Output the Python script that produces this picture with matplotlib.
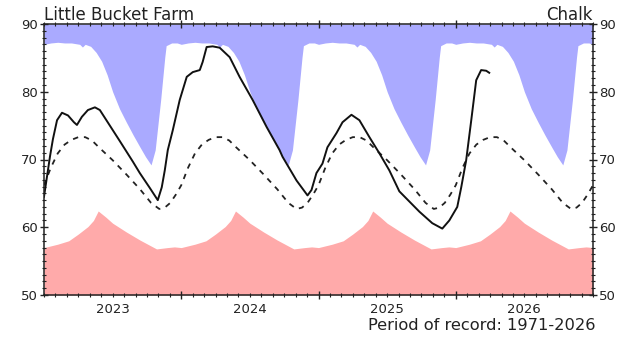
import matplotlib
matplotlib.use("Agg")
import matplotlib.pyplot as plt
from matplotlib.ticker import MultipleLocator, FixedLocator
import numpy as np

# climatology envelopes, by fraction of year
max_frac = [0.00, 0.05, 0.10, 0.15, 0.20, 0.26, 0.28, 0.30, 0.34, 0.38, 0.42, 0.46, 0.50,
            0.55, 0.60, 0.65, 0.70, 0.74, 0.78, 0.81, 0.85, 0.88, 0.89, 0.93, 0.97]
max_level = [87.0, 87.2, 87.3, 87.2, 87.2, 87.0, 86.6, 87.0, 86.7, 85.8, 84.5, 82.5, 80.0,
             77.5, 75.5, 73.6, 71.8, 70.4, 69.2, 71.4, 78.8, 85.1, 86.8, 87.2, 87.2]

min_frac = [0.00, 0.10, 0.18, 0.25, 0.32, 0.36, 0.395, 0.45, 0.50, 0.60, 0.70, 0.82, 0.90, 0.95]
min_level = [57.0, 57.5, 58.0, 59.0, 60.1, 61.0, 62.4, 61.5, 60.6, 59.3, 58.1, 56.8, 57.0, 57.1]

avg_frac = [0.00, 0.05, 0.10, 0.15, 0.20, 0.25, 0.30, 0.35, 0.40, 0.50, 0.60, 0.70, 0.78,
            0.84, 0.88, 0.92, 0.96]
avg_level = [66.2, 68.8, 70.9, 72.2, 72.9, 73.3, 73.3, 72.8, 71.8, 69.9, 67.8, 65.6, 63.6,
             62.7, 62.9, 63.6, 64.8]

years = [2023, 2024, 2025, 2026]

# observed groundwater level (decimal year, m AOD)
obs_date = [2023.000, 2023.022, 2023.044, 2023.065, 2023.095, 2023.131, 2023.175, 2023.218,
            2023.240, 2023.276, 2023.320, 2023.371, 2023.407, 2023.480, 2023.553, 2023.647,
            2023.698, 2023.771, 2023.829, 2023.858, 2023.880, 2023.902, 2023.938, 2023.989,
            2024.040, 2024.084, 2024.135, 2024.156, 2024.185, 2024.229, 2024.280, 2024.353,
            2024.425, 2024.520, 2024.622, 2024.716, 2024.738, 2024.840, 2024.920, 2024.949,
            2024.985, 2025.029, 2025.065, 2025.131, 2025.175, 2025.240, 2025.298, 2025.371,
            2025.444, 2025.516, 2025.589, 2025.735, 2025.829, 2025.902, 2025.953, 2026.011,
            2026.040, 2026.076, 2026.113, 2026.149, 2026.185, 2026.222, 2026.244]
obs_level = [64.5, 67.5, 70.5, 73.0, 75.8, 76.9, 76.5, 75.5,
             75.1, 76.3, 77.3, 77.7, 77.3, 75.0, 72.7, 69.7,
             68.0, 65.8, 64.0, 65.9, 68.4, 71.4, 74.3, 78.8,
             82.2, 82.9, 83.2, 84.4, 86.6, 86.7, 86.5, 85.1,
             82.2, 78.8, 74.8, 71.4, 70.4, 66.9, 64.7, 65.5,
             68.0, 69.4, 71.8, 73.9, 75.5, 76.6, 75.8, 73.3,
             70.9, 68.4, 65.3, 62.3, 60.6, 59.8, 61.0, 63.0,
             65.9, 69.9, 75.8, 81.7, 83.2, 83.1, 82.8]


def tile(frac, level):
    xs, ys = [], []
    for yr in years:
        xs += [yr + f for f in frac]
        ys += level
    xs.append(years[-1] + 1)
    ys.append(level[0])
    return np.array(xs), np.array(ys)


mx_x, mx_y = tile(max_frac, max_level)
mn_x, mn_y = tile(min_frac, min_level)
av_x, av_y = tile(avg_frac, avg_level)

fig = plt.figure(figsize=(6.37, 3.38), dpi=100)
ax = fig.add_axes([44 / 637, 43 / 338, 549 / 637, 271 / 338])

ax.fill_between(mx_x, mx_y, 90, color="#aaaaff", lw=0)
ax.fill_between(mn_x, 50, mn_y, color="#ffaaaa", lw=0)
ax.plot(av_x, av_y, color="#222222", lw=1.3, dashes=(3, 3.2))
ax.plot(obs_date, obs_level, color="#111111", lw=1.4)

ax.set_xlim(2023, 2027)
ax.set_ylim(50, 90)

ax.xaxis.set_major_locator(FixedLocator([2024, 2025, 2026]))
ax.xaxis.set_minor_locator(MultipleLocator(1 / 12))
ax.set_xticklabels([])
ax.yaxis.set_major_locator(MultipleLocator(10))
ax.yaxis.set_minor_locator(MultipleLocator(1))
ax.tick_params(which="both", direction="inout", top=True, right=True, labelright=True,
               labelsize=9.5, colors="#222222", pad=1.5)
ax.tick_params(which="major", length=6, width=1)
ax.tick_params(which="minor", length=3, width=0.8)
for s in ax.spines.values():
    s.set_linewidth(1.1)
    s.set_color("#222222")

for yr in years:
    ax.text(yr + 0.5, -0.03, str(yr), transform=ax.get_xaxis_transform(),
            ha="center", va="top", fontsize=9.5, color="#222222")

ax.text(0, 1.0, "Little Bucket Farm", transform=ax.transAxes, ha="left", va="bottom",
        fontsize=12, color="#222222")
ax.text(1, 1.0, "Chalk", transform=ax.transAxes, ha="right", va="bottom",
        fontsize=12, color="#222222")
fig.text(595 / 637, 1 - 325 / 338, "Period of record: 1971-2026", ha="right", va="center",
         fontsize=11.7, color="#222222")

fig.savefig("out.png", dpi=100)
